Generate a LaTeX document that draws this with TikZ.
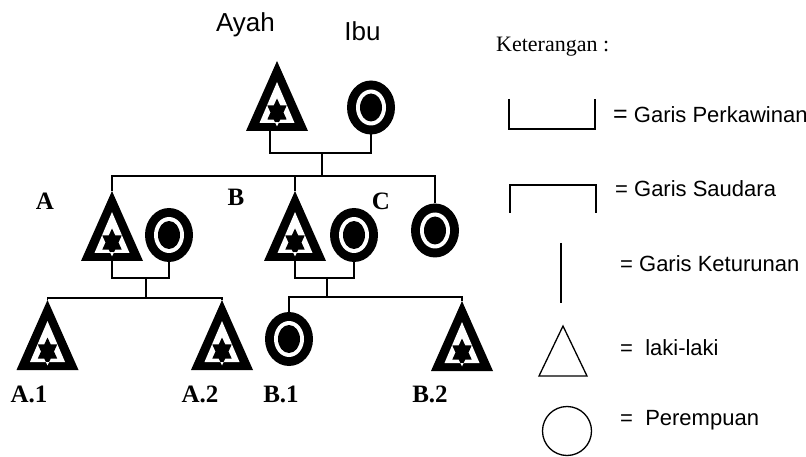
\documentclass[tikz,border=0pt]{standalone}
\usepackage{fontspec}
\setmainfont{Liberation Serif}
\setsansfont{Liberation Sans}
\usetikzlibrary{calc}
\newcommand\hexstar{(0,0) +(90:14) -- +(120:8.1) -- +(150:14) -- +(180:8.1) -- +(210:14) -- +(240:8.1) -- +(270:14) -- +(300:8.1) -- +(330:14) -- +(0:8.1) -- +(30:14) -- +(60:8.1) -- cycle}
\tikzset{
  link/.style={line width=1.3pt},
  legline/.style={line width=1.3pt},
  lbl/.style={font=\fontsize{25}{28}\selectfont\bfseries, inner sep=0pt, anchor=base},
  head/.style={font=\sffamily\fontsize{26}{30}\selectfont, inner sep=0pt, anchor=base},
  legtext/.style={font=\sffamily\fontsize{22}{26}\selectfont, inner sep=0pt, anchor=base west},
  male/.pic={
    \fill[black] (0,0) -- (31,70) -- (-31,70) -- cycle;
    \fill[white] (0,21) -- (17.5,62) -- (-17.5,62) -- cycle;
    \begin{scope}[shift={(0,51.5)}, xscale=0.8]
      \fill[black] \hexstar;
    \end{scope}
    \begin{scope}
      \clip (-20,62) rectangle (20,72);
      \begin{scope}[shift={(0,51.5)}, xscale=0.8]
        \fill[white] \hexstar;
      \end{scope}
    \end{scope}
    \coordinate (-top) at (0,0);
    \coordinate (-bot) at (0,70);
  },
  female/.pic={
    \fill[black] (0,0) ellipse [x radius=24, y radius=27];
    \fill[white] (0,0) ellipse [x radius=15, y radius=18];
    \fill[black] (0,0) ellipse [x radius=11, y radius=14];
    \coordinate (-top) at (0,-27);
    \coordinate (-bot) at (0,27);
  }
}
\begin{document}
\begin{tikzpicture}[x=1pt,y=-1pt]
\useasboundingbox (0,0) rectangle (806,457);

% people
\pic (ayah) at (277,61) {male};
\pic (ibu) at (371,107.5) {female};
\pic (a) at (112,191) {male};
\pic (aw) at (169,235) {female};
\pic (b) at (295,191) {male};
\pic (bw) at (354,235) {female};
\pic (c) at (435,230.5) {female};
\pic (a1) at (47.5,300) {male};
\pic (a2) at (222,300) {male};
\pic (b1) at (289,339) {female};
\pic (b2) at (462,301) {male};

% junctions
\coordinate (m0) at (322,153);
\coordinate (s0) at (322,176);
\coordinate (m1) at (146,278);
\coordinate (s1) at (146,298);
\coordinate (m2) at (327,278);
\coordinate (s2) at (327,297);

% connectors
\draw[link] ($(ayah-bot)+(-7,0)$) |- (m0) -| (ibu-bot);
\draw[link] (m0) -- (s0);
\draw[link] (a-top) |- (s0);
\draw[link] (c-top) |- (s0);
\draw[link] (b-top) -- (b-top |- s0);

\draw[link] (a-bot) |- (m1) -| (aw-bot);
\draw[link] (m1) -- (s1);
\draw[link] (a1-top) |- (s1);
\draw[link] (a2-top) |- (s1);

\draw[link] (b-bot) |- (m2) -| (bw-bot);
\draw[link] (m2) -- (s2);
\draw[link] (b1-top) |- (s2);
\draw[link] (b2-top) |- (s2);

% labels
\node[head] (tAyah) at (245.5,32) {Ayah};
\node[head] (tIbu) at (362.5,41) {Ibu};
\node[lbl] (tA) at (45,210) {A};
\node[lbl] (tB) at (236,206) {B};
\node[lbl] (tC) at (381,210) {C};
\node[lbl] (tA1) at (29,402) {A.1};
\node[lbl] (tA2) at (200,402) {A.2};
\node[lbl] (tB1) at (281,402) {B.1};
\node[lbl] (tB2) at (430,402) {B.2};

% legend
\node[font=\fontsize{22}{26}\selectfont, inner sep=0pt, anchor=base west] (ket) at (496,52) {Keterangan :};

\coordinate (k1a) at (509,99);
\coordinate (k1b) at (595,129);
\draw[legline] (k1a) |- (k1b) -- (k1b |- k1a);
\node[legtext] (tk1) at (613,123) {\fontsize{25}{26}\selectfont=\fontsize{22}{26}\selectfont\ Garis Perkawinan};

\coordinate (k2a) at (510,213);
\coordinate (k2b) at (596,185);
\draw[legline] (k2a) |- (k2b) -- (k2b |- k2a);
\node[legtext] (tk2) at (615,197) {= Garis Saudara};

\coordinate (k3a) at (561,243);
\coordinate (k3b) at (561,303);
\draw[legline] (k3a) -- (k3b);
\node[legtext] (tk3) at (620,272) {= Garis Keturunan};

\draw[legline, line join=miter] (563,326) -- (587,376) -- (539,376) -- cycle;
\node[legtext] (tk4) at (620,355) {=\ \ laki-laki};

\draw[legline] (567,431) circle [radius=24.5];
\node[legtext] (tk5) at (620,425) {=\ \ Perempuan};
\end{tikzpicture}
\end{document}
